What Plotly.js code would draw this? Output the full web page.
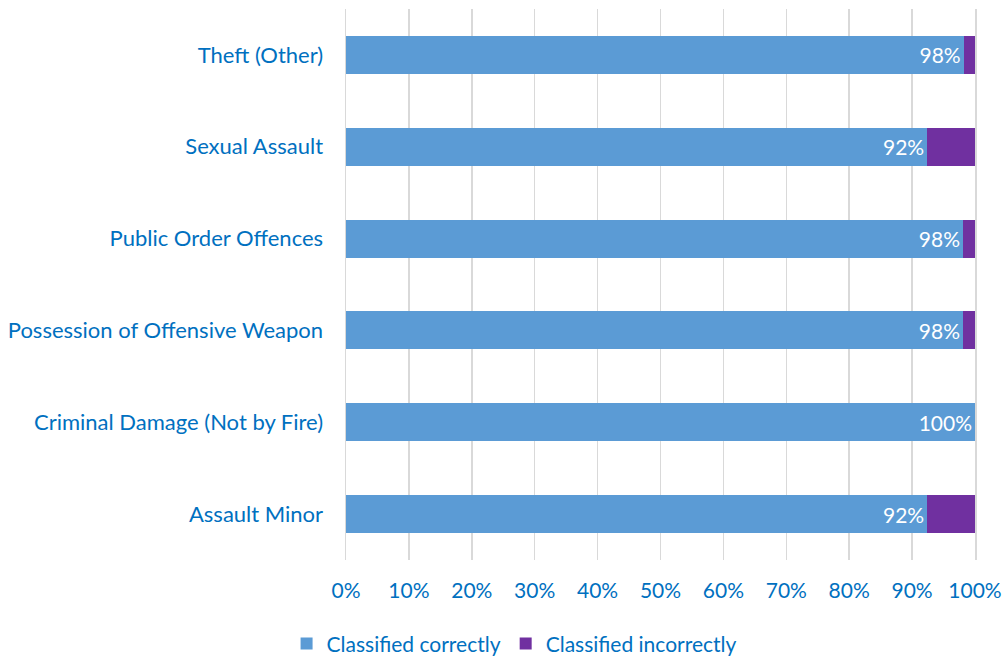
<!DOCTYPE html>
<html>
<head>
<meta charset="utf-8">
<script src="https://cdn.plot.ly/plotly-3.0.1.min.js"></script>
<style>html,body{margin:0;padding:0;background:#fff;}#chart{width:1008px;height:661px;}</style>
</head>
<body>
<div id="chart"></div>
<script>
var categories = ["Assault Minor", "Criminal Damage (Not by Fire)", "Possession of Offensive Weapon", "Public Order Offences", "Sexual Assault", "Theft (Other)"];
var correct = [92.4, 100, 98.1, 98.1, 92.4, 98.2];
var incorrect = [7.6, 0, 1.9, 1.9, 7.6, 1.8];
var tickVals = [0, 10, 20, 30, 40, 50, 60, 70, 80, 90, 100];
var tickLabels = tickVals.map(function (v) { return v + "%"; });

var font = "Lato, 'Open Sans', sans-serif";
var textBlue = "#0070C0";

var data = [
  {
    type: "bar", orientation: "h", name: "Classified correctly",
    y: categories, x: correct,
    marker: {color: "#5B9BD5"},
    texttemplate: "%{x:.0f}%", textposition: "inside", insidetextanchor: "end",
    textfont: {color: "#ffffff", size: 21, family: font},
    constraintext: "none", cliponaxis: false,
    hoverinfo: "none"
  },
  {
    type: "bar", orientation: "h", name: "Classified incorrectly",
    y: categories, x: incorrect,
    marker: {color: "#7030A0"},
    hoverinfo: "none"
  }
];

var layout = {
  width: 1008, height: 661,
  barmode: "stack", bargap: 0.585,
  margin: {l: 346, r: 33, t: 9, b: 101, autoexpand: false},
  paper_bgcolor: "#ffffff", plot_bgcolor: "#ffffff",
  font: {family: font, size: 22, color: textBlue},
  xaxis: {
    range: [0, 100], tickmode: "array", tickvals: tickVals, ticktext: tickLabels,
    showgrid: true, gridcolor: "#D9D9D9", gridwidth: 1.5,
    zeroline: false, showline: false, ticks: "",
    ticklabelstandoff: 16,
    tickfont: {size: 21, color: textBlue, family: font},
    automargin: false,
    fixedrange: true
  },
  yaxis: {
    showgrid: false, zeroline: false, ticks: "",
    showline: true, mirror: true, linecolor: "#D9D9D9", linewidth: 1.5,
    ticklabelstandoff: 17,
    tickfont: {size: 22, color: textBlue, family: font},
    automargin: false,
    fixedrange: true
  },
  showlegend: true,
  legend: {
    orientation: "h", traceorder: "normal",
    xref: "container", yref: "container",
    x: 0.51, xanchor: "center", y: 0.026, yanchor: "middle",
    font: {size: 21, color: textBlue, family: font},
    itemwidth: 30
  }
};

Plotly.newPlot("chart", data, layout, {displayModeBar: false, staticPlot: true});
</script>
</body>
</html>
